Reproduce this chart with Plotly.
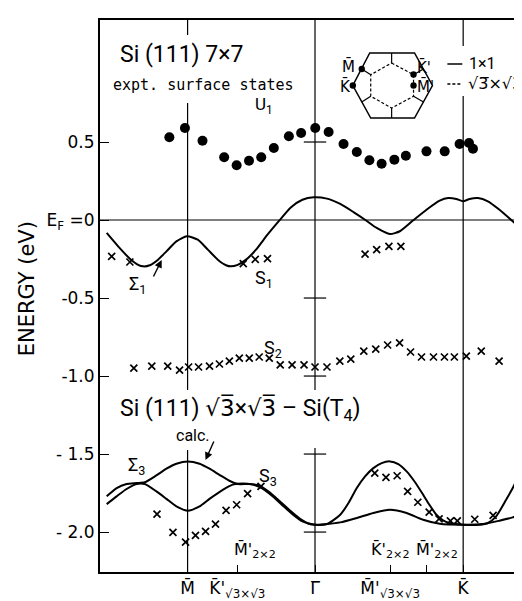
import plotly.graph_objects as go

# ---- symmetry points (k in units of |Gamma-M|) ----
K_M = -1.0
K_KP_R3 = -0.61
K_GAMMA = 0.0
K_MP_R3 = 0.59
K_MP_2X2 = 0.875
K_K = 1.163

x_tickvals = [K_M, K_KP_R3, K_GAMMA, K_MP_R3, K_K]
x_ticktext = ["M\u0304", "K\u0304'<sub>\u221a3\u00d7\u221a3</sub>", "\u0393\u0305",
              "M\u0304'<sub>\u221a3\u00d7\u221a3</sub>", "K\u0304"]
x_minor_tickvals = [K_MP_2X2]
y_tickvals = [-2.0, -1.5, -1.0, -0.5, 0.0, 0.5]
y_ticktext = ["- 2.0", "- 1.5", "-1.0", "-0.5", "E<sub>F</sub> =0", "0.5"]

# ---- U1 (filled dots) ----
u1_k = [-1.143, -1.021, -0.883, -0.713, -0.615, -0.518, -0.422, -0.323, -0.205, -0.109,
        0.002, 0.107, 0.224, 0.328, 0.427, 0.523, 0.623, 0.713, 0.875, 1.018,
        1.135, 1.209, 1.240]
u1_E = [0.530, 0.590, 0.508, 0.402, 0.351, 0.380, 0.402, 0.462, 0.537, 0.558,
        0.590, 0.564, 0.487, 0.436, 0.383, 0.361, 0.387, 0.412, 0.440, 0.440,
        0.487, 0.494, 0.457]

# ---- S1 crosses ----
s1_k = [-1.596, -1.453, -0.563, -0.469, -0.373, 0.393, 0.484, 0.580, 0.674]
s1_E = [-0.233, -0.269, -0.280, -0.252, -0.247, -0.218, -0.190, -0.169, -0.169]

# ---- S2 crosses ----
s2_k = [-1.422, -1.281, -1.156, -1.063, -0.992, -0.914, -0.828, -0.750, -0.672, -0.594,
        -0.516, -0.438, -0.359, -0.273, -0.180, -0.086, 0.000, 0.094, 0.195, 0.281,
        0.383, 0.477, 0.570, 0.664, 0.750, 0.836, 0.930, 1.016, 1.094, 1.188,
        1.305, 1.445]
s2_E = [-0.949, -0.936, -0.936, -0.962, -0.942, -0.942, -0.936, -0.923, -0.904, -0.885,
        -0.885, -0.878, -0.885, -0.929, -0.929, -0.929, -0.942, -0.942, -0.904, -0.891,
        -0.840, -0.827, -0.801, -0.788, -0.846, -0.878, -0.878, -0.878, -0.878, -0.872,
        -0.840, -0.904]

# ---- S3 crosses ----
s3_k = [-1.240, -1.115, -1.016, -0.938, -0.859, -0.781, -0.698, -0.615, -0.529, -0.424,
        0.469, 0.557, 0.645, 0.727, 0.807, 0.896, 0.974, 1.063, 1.117, 1.254, 1.398]
s3_E = [-1.885, -2.002, -2.064, -2.021, -1.996, -1.949, -1.861, -1.825, -1.754, -1.707,
        -1.622, -1.649, -1.639, -1.739, -1.809, -1.872, -1.915, -1.928, -1.928, -1.918,
        -1.893]

# ---- Sigma1 calculated band (7x7) ----
sig1_k = [-1.635, -1.545, -1.453, -1.388, -1.349, -1.297, -1.232, -1.166, -1.088, -1.005,
          -0.920, -0.841, -0.763, -0.698, -0.659, -0.607, -0.541, -0.463, -0.373, -0.281,
          -0.190, -0.099, -0.010, 0.094, 0.198, 0.302, 0.393, 0.484, 0.588, 0.666,
          0.771, 0.875, 0.979, 1.045, 1.109, 1.162, 1.213, 1.279, 1.357, 1.448,
          1.552, 1.604]
sig1_E = [-0.083, -0.169, -0.248, -0.287, -0.297, -0.290, -0.254, -0.201, -0.137, -0.104,
          -0.126, -0.190, -0.254, -0.290, -0.297, -0.287, -0.254, -0.190, -0.094, -0.004,
          0.081, 0.130, 0.146, 0.137, 0.103, 0.051, 0.002, -0.051, -0.090, -0.072,
          -0.002, 0.066, 0.124, 0.141, 0.135, 0.120, 0.135, 0.141, 0.120, 0.066,
          -0.008, -0.047]

# ---- calculated sqrt3 bands (Sigma3) ----
calcA_k = [-1.635, -1.557, -1.479, -1.401, -1.336, -1.245, -1.166, -1.088, -0.998, -0.906,
           -0.828, -0.750, -0.672, -0.607, -0.516, -0.438, -0.359, -0.281, -0.203, -0.125,
           -0.060, 0.000, 0.094, 0.198, 0.263, 0.328, 0.393, 0.458, 0.523, 0.588,
           0.654, 0.719, 0.784, 0.849, 0.901, 0.953, 1.005, 1.057, 1.162, 1.291,
           1.357, 1.422, 1.500, 1.552, 1.617]
calcA_E = [-1.771, -1.718, -1.692, -1.686, -1.681, -1.637, -1.594, -1.562, -1.547, -1.562,
           -1.594, -1.633, -1.671, -1.692, -1.692, -1.701, -1.744, -1.799, -1.857, -1.910,
           -1.942, -1.953, -1.949, -1.889, -1.814, -1.718, -1.643, -1.590, -1.558, -1.547,
           -1.564, -1.611, -1.679, -1.761, -1.829, -1.889, -1.925, -1.942, -1.953, -1.953,
           -1.942, -1.899, -1.793, -1.718, -1.611]
calcB_k = [-1.635, -1.557, -1.479, -1.401, -1.336, -1.245, -1.166, -1.088, -0.998, -0.906,
           -0.828, -0.724, -0.646, -0.568, -0.490, -0.411, -0.333, -0.255, -0.177, -0.099,
           0.000, 0.198, 0.328, 0.458, 0.588, 0.719, 0.849, 0.979, 1.162, 1.318,
           1.448, 1.552, 1.617]
calcB_E = [-1.821, -1.771, -1.724, -1.692, -1.692, -1.739, -1.787, -1.835, -1.863, -1.835,
           -1.787, -1.729, -1.696, -1.688, -1.696, -1.722, -1.771, -1.829, -1.885, -1.931,
           -1.953, -1.938, -1.910, -1.878, -1.857, -1.878, -1.921, -1.947, -1.953, -1.949,
           -1.927, -1.906, -1.885]

FONT = "Roboto, 'DejaVu Sans', sans-serif"
DV = "'DejaVu Sans', sans-serif"
BLACK = "black"

# plot-area pixel geometry (for placing labels / inset)
L, R, T, B = 92, 521, 12, 564
def px(x):
    return (x - L) / (R - L)
def py(y):
    return (B - y) / (B - T)

fig = go.Figure()

line_style = dict(color=BLACK, width=2, shape="spline", smoothing=0.6)
fig.add_trace(go.Scatter(x=sig1_k, y=sig1_E, mode="lines", line=line_style, hoverinfo="skip"))
fig.add_trace(go.Scatter(x=calcA_k, y=calcA_E, mode="lines", line=line_style, hoverinfo="skip"))
fig.add_trace(go.Scatter(x=calcB_k, y=calcB_E, mode="lines", line=line_style, hoverinfo="skip"))

cross = dict(symbol="x-thin", size=7, color=BLACK, line=dict(color=BLACK, width=1.7))
for kk, ee in [(s1_k, s1_E), (s2_k, s2_E), (s3_k, s3_E)]:
    fig.add_trace(go.Scatter(x=kk, y=ee, mode="markers", marker=cross, hoverinfo="skip"))

fig.add_trace(go.Scatter(x=u1_k, y=u1_E, mode="markers",
                         marker=dict(symbol="circle", size=10, color=BLACK), hoverinfo="skip"))

# crossing ticks along the Gamma line
gam_ticks = [v for v in y_tickvals if v not in (0.0, -1.0)]
fig.add_trace(go.Scatter(x=[K_GAMMA] * len(gam_ticks), y=gam_ticks, mode="markers",
                         marker=dict(symbol="line-ew", size=16, line=dict(color=BLACK, width=1.2)),
                         hoverinfo="skip"))
fig.add_trace(go.Scatter(x=[K_GAMMA], y=[-1.0], mode="markers",
                         marker=dict(symbol="line-ew", size=16, line=dict(color=BLACK, width=1.2)),
                         hoverinfo="skip"))

# vertical symmetry lines and Fermi level
for kv in [K_M, K_GAMMA, K_K]:
    fig.add_vline(x=kv, line=dict(color=BLACK, width=1.2), layer="below")
fig.add_hline(y=0.0, line=dict(color=BLACK, width=1.2), layer="below")

# gaps in symmetry lines behind texts
fig.add_shape(type="rect", xref="paper", yref="paper", x0=px(450), x1=px(464), y0=py(88), y1=py(38),
              fillcolor="white", line=dict(width=0), layer="below")
fig.add_shape(type="rect", xref="paper", yref="paper", x0=px(174), x1=px(186), y0=py(95), y1=py(27),
              fillcolor="white", line=dict(width=0), layer="below")
fig.add_shape(type="rect", xref="paper", yref="paper", x0=px(302), x1=px(314), y0=py(440), y1=py(382),
              fillcolor="white", line=dict(width=0), layer="below")
fig.add_shape(type="rect", xref="paper", yref="paper", x0=px(174), x1=px(186), y0=py(442), y1=py(382),
              fillcolor="white", line=dict(width=0), layer="below")

# ---- inset Brillouin zones ----
def path(pts, close=True):
    s = "M " + " L ".join(f"{px(a):.5f},{py(b):.5f}" for a, b in pts)
    return s + (" Z" if close else "")

outer = [(363, 45), (408, 45), (426, 77.5), (408, 110), (364, 110), (346, 77.5)]
inner = [(385, 55), (407, 66.7), (407, 88.3), (385, 100), (364, 88.3), (364, 66.7)]
fig.add_shape(type="path", xref="paper", yref="paper", path=path(outer),
              line=dict(color=BLACK, width=1.5))
fig.add_shape(type="path", xref="paper", yref="paper", path=path(inner),
              line=dict(color=BLACK, width=1.2, dash="3px,2px"))
spokes = [((385, 55), (385, 45)), ((385, 100), (385, 110)), ((364, 66.7), (355, 61)),
          ((364, 88.3), (355, 94)), ((407, 66.7), (417, 61)), ((407, 88.3), (417, 94))]
for a, b in spokes:
    fig.add_shape(type="line", xref="paper", yref="paper", x0=px(a[0]), y0=py(a[1]),
                  x1=px(b[0]), y1=py(b[1]), line=dict(color=BLACK, width=1.2))
for (cx, cy) in [(355, 61), (346, 77.5), (407, 66.5), (407, 77.5)]:
    r = 3.2
    fig.add_shape(type="circle", xref="paper", yref="paper", x0=px(cx - r), x1=px(cx + r),
                  y0=py(cy + r), y1=py(cy - r), fillcolor=BLACK, line=dict(width=0))
fig.add_shape(type="line", xref="paper", yref="paper", x0=px(441), x1=px(456), y0=py(56), y1=py(56),
              line=dict(color=BLACK, width=1.5))
fig.add_shape(type="line", xref="paper", yref="paper", x0=px(441), x1=px(456), y0=py(76), y1=py(76),
              line=dict(color=BLACK, width=1.5, dash="3px,2px"))

def label(text, x, y, size=16, xanchor="center", bg=None, family=FONT, angle=0):
    fig.add_annotation(text=text, xref="paper", yref="paper", x=px(x), y=py(y),
                       xanchor=xanchor, yanchor="middle", showarrow=False, textangle=angle,
                       font=dict(family=family, size=size, color=BLACK),
                       bgcolor=bg, borderpad=1)

def arrow(x_head, y_head, x_tail, y_tail):
    fig.add_annotation(text="", xref="paper", yref="paper", x=px(x_head), y=py(y_head),
                       ax=x_tail - x_head, ay=y_tail - y_head, showarrow=True,
                       arrowhead=2, arrowsize=1.1, arrowwidth=1.4, arrowcolor=BLACK)

R3 = "<span style='font-family:DejaVu Sans'>\u221a3\u0305</span>"

label("ENERGY (eV)", 19, 281, size=21, family=DV, angle=-90)
label("Si (111) 7\u00d77", 110, 46, size=23, xanchor="left", bg="white")
label("expt. surface states", 103, 77, size=15, xanchor="left", bg="white",
      family="'DejaVu Sans Mono', monospace")
label("U<sub>1</sub>", 257, 97, size=17)
label("\u03a3<sub>1</sub>", 130, 277, size=18)
arrow(154, 252, 145, 270)
label("S<sub>1</sub>", 257, 271, size=18)
label("S<sub>2</sub>", 266, 341, size=18)
label("Si (111) " + R3 + "\u00d7" + R3 + " \u2013 Si(T<sub>4</sub>)",
      110, 401, size=23, xanchor="left", bg="white")
label("calc.", 185, 427, size=16, bg="white")
arrow(198, 452, 207, 432)
label("\u03a3<sub>3</sub>", 129, 458, size=18)
label("S<sub>3</sub>", 261, 469, size=18)
label("M\u0304'<sub>2\u00d72</sub>", 248, 542, size=16, family=DV)
label("K\u0304'<sub>2\u00d72</sub>", 384, 542, size=16, family=DV)
label("M\u0304'<sub>2\u00d72</sub>", 431, 542, size=16, family=DV)
# inset labels
label("M\u0304", 342, 58, size=15, family=DV)
label("K\u0304", 339, 79, size=15, family=DV)
label("K\u0304'", 418, 59, size=15, family=DV)
label("M\u0304'", 419, 79, size=15, family=DV)
label("1\u00d71", 461, 55, size=16, xanchor="left")
label("\u221a3\u0305\u00d7\u221a3\u0305", 460, 76, size=16, xanchor="left", family=DV)

fig.update_layout(
    width=522, height=601,
    margin=dict(l=L, r=522 - R, t=T, b=601 - B),
    paper_bgcolor="white", plot_bgcolor="white",
    showlegend=False,
    font=dict(family=FONT, color=BLACK),
    xaxis=dict(range=[-1.6875, 1.664], showgrid=False, zeroline=False,
               showline=True, linecolor=BLACK, linewidth=2, mirror=True,
               ticks="inside", ticklen=7, tickwidth=1.2, tickcolor=BLACK,
               tickvals=x_tickvals, ticktext=x_ticktext,
               minor=dict(tickvals=x_minor_tickvals, ticks="inside", ticklen=7,
                          tickwidth=1.2, tickcolor=BLACK, showgrid=False),
               tickfont=dict(size=17, family=DV, color=BLACK)),
    yaxis=dict(range=[-2.256, 1.282], showgrid=False, zeroline=False,
               showline=True, linecolor=BLACK, linewidth=2, mirror="ticks",
               ticks="inside", ticklen=9, tickwidth=1.2, tickcolor=BLACK,
               tickvals=y_tickvals, ticktext=y_ticktext,
               tickfont=dict(size=17, family=DV, color=BLACK)),
)

fig.write_html("out.html")
